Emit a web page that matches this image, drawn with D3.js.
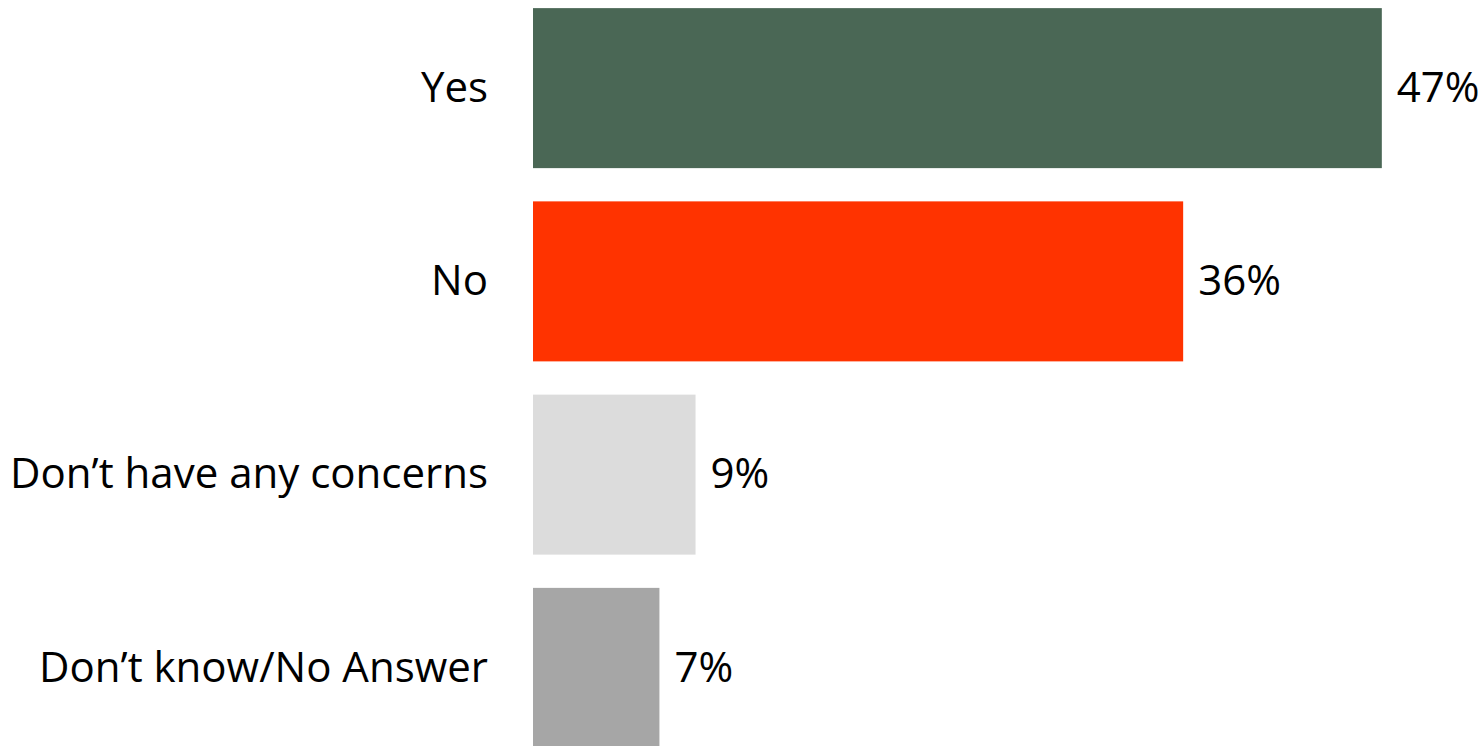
<!DOCTYPE html>
<html>
<head>
<meta charset="utf-8">
<script src="https://cdn.jsdelivr.net/npm/d3@7"></script>
<style>
  html, body { margin: 0; padding: 0; background: #ffffff; }
  svg { display: block; }
  text { font-family: "Open Sans", "Liberation Sans", sans-serif; fill: #000000; }
</style>
</head>
<body>
<svg id="chart" width="1484" height="746"></svg>
<script>
const categories = ["Yes", "No", "Don\u2019t have any concerns", "Don\u2019t know/No Answer"];
const values = [47, 36, 9, 7];
const valueLabels = ["47%", "36%", "9%", "7%"];
const colors = ["#4a6755", "#ff3300", "#dcdcdc", "#a6a6a6"];

const svg = d3.select("#chart");
const fontSize = 42;

const x = d3.scaleLinear().domain([0, 50]).range([533, 1436]);
const y = d3.scaleBand().domain(categories).range([-8.5, 764.5]).paddingInner(0.172).paddingOuter(0.086);

svg.selectAll("rect.bar")
  .data(categories)
  .join("rect")
  .attr("class", "bar")
  .attr("x", x(0))
  .attr("y", d => y(d))
  .attr("width", (d, i) => x(values[i]) - x(0))
  .attr("height", y.bandwidth())
  .attr("fill", (d, i) => colors[i]);

svg.selectAll("text.cat")
  .data(categories)
  .join("text")
  .attr("class", "cat")
  .attr("x", x(0) - 45)
  .attr("y", d => y(d) + y.bandwidth() / 2)
  .attr("dy", "0.33em")
  .attr("text-anchor", "end")
  .style("font-size", fontSize + "px")
  .text(d => d);

svg.selectAll("text.val")
  .data(categories)
  .join("text")
  .attr("class", "val")
  .attr("x", (d, i) => x(values[i]) + 15)
  .attr("y", d => y(d) + y.bandwidth() / 2)
  .attr("dy", "0.33em")
  .attr("text-anchor", "start")
  .style("font-size", fontSize + "px")
  .text((d, i) => valueLabels[i]);
</script>
</body>
</html>
